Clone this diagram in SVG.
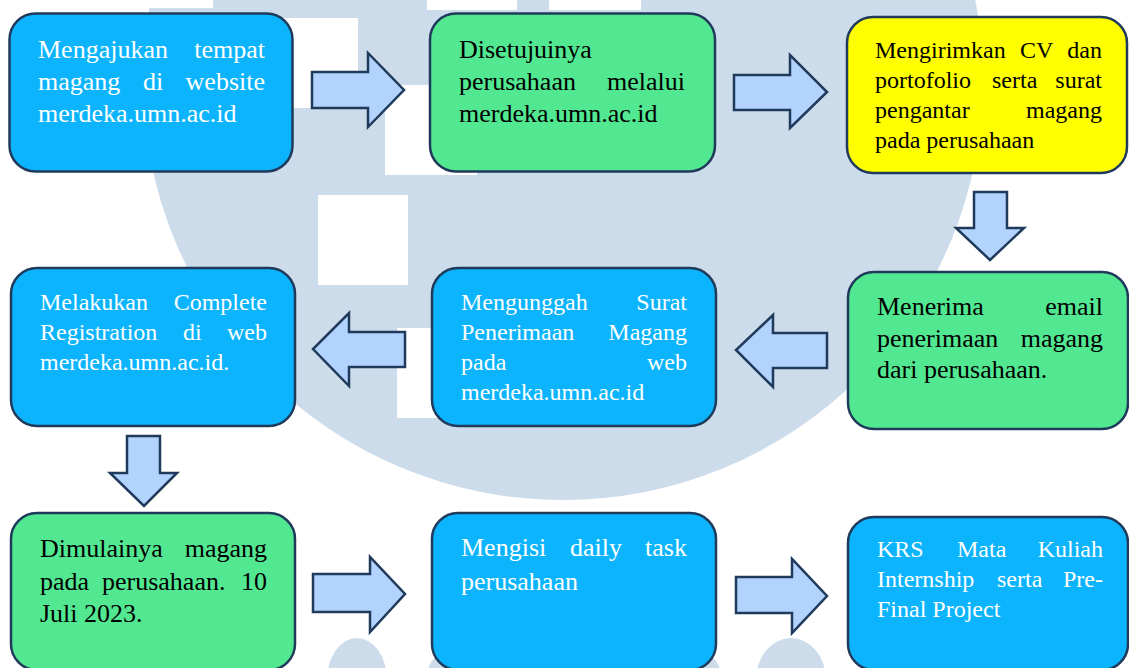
<svg xmlns="http://www.w3.org/2000/svg" width="1129" height="668" viewBox="0 0 1129 668">
<style>
.box{stroke:#1F3A5A;stroke-width:2.5}
.blue{fill:#0BB4FC}
.green{fill:#52E892}
.yellow{fill:#FFFF00}
.arr{fill:#B3D3FF;stroke:#1F3A5A;stroke-width:2.5;stroke-linejoin:miter}
.wm{fill:#CCDCEB}
.wh{fill:#FFFFFF}
text{font-family:"Liberation Serif","Times New Roman",serif}
.w{fill:#FFFFFF}
.k{fill:#000000}
.f26{font-size:26px}
.f24{font-size:24px}
.e{text-anchor:end}
</style>
<rect width="1129" height="668" fill="#FFFFFF"/>
<g id="watermark">
<circle class="wm" cx="563" cy="80" r="420"/>
<rect class="wh" x="123" y="-82" width="90" height="90"/>
<rect class="wh" x="268" y="18" width="90" height="90"/>
<rect class="wh" x="385" y="85" width="92" height="90"/>
<rect class="wh" x="427" y="-80" width="90" height="90"/>
<rect class="wh" x="549" y="-80" width="92" height="90"/>
<rect class="wh" x="318" y="195" width="90" height="90"/>
<rect class="wh" x="397" y="328" width="90" height="90"/>
<ellipse class="wm" cx="357" cy="680" rx="30" ry="42"/>
<ellipse class="wm" cx="791" cy="680" rx="35" ry="42"/>
<rect class="wm" x="428" y="652" width="292" height="40" rx="25"/>
</g>
<g id="connectors">
<path class="arr" d="M312,72 H368 V53 L404,90 L368,127 V108 H312 Z"/>
<path class="arr" d="M734,75 H790 V55 L827,92 L790,128 V110 H734 Z"/>
<path class="arr" d="M974,192 H1007 V228 H1024 L990,260 L956,228 H974 Z"/>
<path class="arr" d="M827,333 V368 H773 V387 L736,350 L773,315 V333 Z"/>
<path class="arr" d="M405,332 V367 H349 V386 L313,349 L349,313 V332 Z"/>
<path class="arr" d="M127,436 H160 V473 H177 L144,506 L110,473 H127 Z"/>
<path class="arr" d="M313,574 H370 V557 L405,594 L370,632 V612 H313 Z"/>
<path class="arr" d="M736,577 H792 V559 L827,596 L792,633 V613 H736 Z"/>
</g>
<g id="node1">
<rect class="box blue" x="9.5" y="13.5" width="283" height="158" rx="26"/>
<g class="w f26">
<text x="38" y="58">Mengajukan</text><text class="e" x="265" y="58">tempat</text>
<text x="38" y="90">magang</text><text x="143" y="90">di</text><text class="e" x="265" y="90">website</text>
<text x="38" y="122">merdeka.umn.ac.id</text>
</g>
</g>
<g id="node2">
<rect class="box green" x="430" y="13.5" width="285" height="158" rx="26"/>
<g class="k f26">
<text x="459" y="58">Disetujuinya</text>
<text x="459" y="90">perusahaan</text><text class="e" x="685" y="90">melalui</text>
<text x="459" y="122">merdeka.umn.ac.id</text>
</g>
</g>
<g id="node3">
<rect class="box yellow" x="847" y="17" width="280" height="156" rx="26"/>
<g class="k f24">
<text x="875" y="58">Mengirimkan</text><text x="1020" y="58">CV</text><text class="e" x="1102" y="58">dan</text>
<text x="875" y="88">portofolio</text><text x="992" y="88">serta</text><text class="e" x="1102" y="88">surat</text>
<text x="875" y="118">pengantar</text><text class="e" x="1102" y="118">magang</text>
<text x="875" y="148">pada perusahaan</text>
</g>
</g>
<g id="node4">
<rect class="box green" x="848" y="272" width="280" height="157" rx="26"/>
<g class="k f26">
<text x="877" y="315">Menerima</text><text class="e" x="1103" y="315">email</text>
<text x="877" y="347">penerimaan</text><text class="e" x="1103" y="347">magang</text>
<text x="877" y="378">dari perusahaan.</text>
</g>
</g>
<g id="node5">
<rect class="box blue" x="432" y="268" width="284" height="158" rx="26"/>
<g class="w f24">
<text x="461" y="310">Mengunggah</text><text class="e" x="687" y="310">Surat</text>
<text x="461" y="340">Penerimaan</text><text class="e" x="687" y="340">Magang</text>
<text x="461" y="370">pada</text><text class="e" x="687" y="370">web</text>
<text x="461" y="400">merdeka.umn.ac.id</text>
</g>
</g>
<g id="node6">
<rect class="box blue" x="11" y="268" width="284" height="158" rx="26"/>
<g class="w f24">
<text x="40" y="310">Melakukan</text><text class="e" x="267" y="310">Complete</text>
<text x="40" y="340">Registration</text><text x="183" y="340">di</text><text class="e" x="267" y="340">web</text>
<text x="40" y="370">merdeka.umn.ac.id.</text>
</g>
</g>
<g id="node7">
<rect class="box green" x="11" y="513" width="284" height="157" rx="26"/>
<g class="k f26">
<text x="40" y="557">Dimulainya</text><text class="e" x="267" y="557">magang</text>
<text x="40" y="590">pada</text><text x="102" y="590">perusahaan.</text><text class="e" x="267" y="590">10</text>
<text x="40" y="622">Juli 2023.</text>
</g>
</g>
<g id="node8">
<rect class="box blue" x="432" y="513" width="284" height="157" rx="26"/>
<g class="w f26">
<text x="461" y="556">Mengisi</text><text x="570" y="556">daily</text><text class="e" x="687" y="556">task</text>
<text x="461" y="590">perusahaan</text>
</g>
</g>
<g id="node9">
<rect class="box blue" x="848" y="517" width="280" height="153" rx="26"/>
<g class="w f24">
<text x="877" y="557">KRS</text><text x="957" y="557">Mata</text><text class="e" x="1103" y="557">Kuliah</text>
<text x="877" y="587">Internship</text><text x="997" y="587">serta</text><text class="e" x="1103" y="587">Pre-</text>
<text x="877" y="617">Final Project</text>
</g>
</g>
</svg>
